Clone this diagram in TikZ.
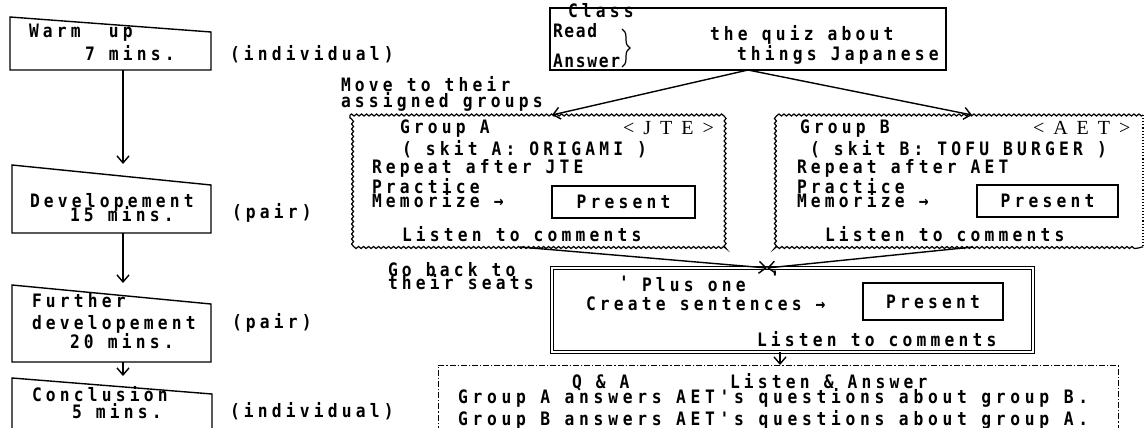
\documentclass[tikz,border=0pt]{standalone}
\usepackage{fontspec}
\usetikzlibrary{arrows.meta,decorations.pathmorphing,decorations.pathreplacing,calc}
\newfontfamily\monof[FakeStretch=0.88, LetterSpace=22.7]{DejaVu Sans Mono}
\newfontfamily\serff{Liberation Serif}
\begin{document}
\begin{tikzpicture}[x=1pt,y=-1pt,
  txt/.style={anchor=base west, inner sep=0pt, outer sep=0pt, font=\monof\bfseries\fontsize{18.5}{18.5}\selectfont},
  wide/.style={txt, font=\monof\bfseries\fontsize{18.5}{18.5}\selectfont\addfontfeature{LetterSpace=25.5}},
  tight/.style={txt, font=\monof\bfseries\fontsize{18.5}{18.5}\selectfont\addfontfeature{LetterSpace=9}},
  tag/.style={anchor=base west, inner sep=0pt, outer sep=0pt, font=\serff\fontsize{20}{20}\selectfont},
  boxline/.style={line width=1.4pt},
  frame/.style={draw, line width=1.4pt, inner sep=0pt, outer sep=0pt, anchor=north west},
  area/.style={inner sep=0pt, outer sep=0pt, anchor=north west},
  presentbox/.style={frame, line width=1.3pt, font=\monof\bfseries\fontsize{18.5}{18.5}\selectfont},
  arr/.style={line width=1.4pt, -{Straight Barb[length=7pt,width=12pt,line width=1.4pt]}},
  wavy/.style={line width=1.2pt, decorate, decoration={snake, amplitude=1pt, segment length=5pt}},
]
\useasboundingbox (0,0) rectangle (1146,428);
\clip (0,0) rectangle (1146,428);

% ---------- left column ----------
\draw[boxline] (10,17) -- (211,32) -- (211,70) -- (10,70) -- cycle;
\draw[boxline] (12,165) -- (211,185) -- (211,233) -- (12,233) -- cycle;
\draw[boxline] (12,285) -- (211,304) -- (211,362) -- (12,362) -- cycle;
\draw[boxline] (12,378) -- (212,394) -- (212,440) -- (12,440) -- cycle;

\coordinate (w1s) at (123,70);
\coordinate (w2n) at (123,164);
\coordinate (w2s) at (123,233);
\coordinate (w3n) at (123,283);
\coordinate (w3s) at (123,362);
\coordinate (w4n) at (123,376);
\draw[arr] (w1s) -- (w2n);
\draw[arr] (w2s) -- (w3n);
\draw[arr] (w3s) -- (w4n);

\node[txt] (t1a) at (29,38) {Warm~~up};
\node[txt] (t1b) at (85,61) {7 mins.};
\node[txt] (t1c) at (230,60) {(individual)};
\node[txt] (t2a) at (30,207) {Developement};
\node[txt] (t2b) at (70,221) {15 mins.};
\node[txt] (t2c) at (232,218) {(pair)};
\node[txt] (t3a) at (32,307) {Further};
\node[txt] (t3b) at (32,329) {developement};
\node[txt] (t3c) at (70,348) {20 mins.};
\node[txt] (t3d) at (232,328) {(pair)};
\node[txt] (t4a) at (32,401) {Conclusion};
\node[txt] (t4b) at (72,418) {5 mins.};
\node[txt] (t4c) at (230,417) {(individual)};

% ---------- class box ----------
\node[frame, minimum width=396pt, minimum height=62pt] (class) at (550,8) {};
\node[txt] (cl) at (568,18) {Class};
\node[tight] (rd) at (553,38) {Read};
\node[tight] (an) at (553,67) {Answer};
\draw[line width=1.2pt, decorate, decoration={brace, amplitude=8pt}] (622,29) -- (622,67);
\node[txt] (qz1) at (710,41) {the quiz about};
\node[txt] (qz2) at (737,61) {things Japanese};

\node[txt] (mv1) at (341,92) {Move to their};
\node[txt] (mv2) at (341,107) {assigned groups};

% ---------- group A ----------
\node[area, minimum width=373pt, minimum height=132pt] (ga) at (350,115) {};
\draw[wavy] (ga.north west) -- (ga.north east) -- (ga.south east) -- (ga.south west) -- cycle;
\node[txt] (gat) at (400,133) {Group A};
\node[tag] (gaj) at (623,134) {<\hspace{9pt}J\hspace{9pt}T\hspace{9pt}E\hspace{9pt}>};
\node[txt] (gas) at (402,155) {( skit A: ORIGAMI )};
\node[txt] (gar) at (372,173) {Repeat after JTE};
\node[txt] (gap) at (372,193) {Practice};
\node[txt] (gam) at (372,207) {Memorize →};
\node[presentbox, minimum width=143pt, minimum height=32pt] (pa) at (552,186) {Present};
\node[txt] (gal) at (402,241) {Listen to comments};

% ---------- group B ----------
\node[area, minimum width=365pt, minimum height=132pt] (gb) at (778,115) {};
\draw[wavy] (gb.north east) -- (gb.north west) -- (gb.south west) -- (gb.south east);
\draw[line width=1.1pt, dotted] (gb.north east) -- (gb.south east);
\node[txt] (gbt) at (800,133) {Group B};
\node[tag] (gba) at (1033,134) {<\hspace{9pt}A\hspace{9pt}E\hspace{9pt}T\hspace{9pt}>};
\node[txt] (gbs) at (810,155) {( skit B: TOFU BURGER )};
\node[txt] (gbr) at (797,173) {Repeat after AET};
\node[txt] (gbp) at (797,193) {Practice};
\node[txt] (gbm) at (797,207) {Memorize →};
\node[presentbox, minimum width=141pt, minimum height=32pt] (pb) at (977,185) {Present};
\node[txt] (gbl) at (825,241) {Listen to comments};

% arrows from class
\coordinate (gaTop) at ($(ga.north west)+(202,0)$);
\coordinate (gbTop) at ($(gb.north west)+(194,0)$);
\draw[arr] (class.south) -- (gaTop);
\draw[arr] (class.south) -- (gbTop);

% ---------- plus one ----------
\node[area, draw, double, double distance=2pt, line width=1pt, minimum width=481pt, minimum height=84pt] (plus) at (552,268) {};
\node[txt] (q1) at (619,289) {'};
\node[txt] (pl) at (642,291) {Plus one};
\node[txt] (q2) at (770,284) {'};
\node[txt] (cs) at (586,310) {Create sentences →};
\node[presentbox, minimum width=140pt, minimum height=37pt] (pc) at (863,283) {Present};
\node[txt] (pll) at (757,346) {Listen to comments};

\node[txt] (gb1) at (388,276) {Go back to};
\node[txt] (gb2) at (388,289) {their seats};

\coordinate (gaBot) at ($(ga.south west)+(170,0)$);
\coordinate (gbBot) at ($(gb.south west)+(195,0)$);
\coordinate (plusTop) at ($(plus.north west)+(215,0)$);
\draw[arr] (gaBot) -- (plusTop);
\draw[arr] (gbBot) -- (plusTop);

% ---------- Q & A ----------
\node[area, draw, line width=1pt, dash pattern=on 6pt off 2pt on 1.2pt off 2pt, minimum width=680pt, minimum height=80pt] (qa) at (438,365) {};
\coordinate (plusBot) at ($(plus.south west)+(228,0)$);
\coordinate (qaTop) at ($(qa.north west)+(342,0)$);
\draw[arr] (plusBot) -- (qaTop);
\node[txt] (qat) at (572,388) {Q \& A};
\node[txt] (qal) at (730,388) {Listen \& Answer};
\node[wide] (qa1) at (458,403) {Group A answers AET's questions about group B.};
\node[wide] (qa2) at (458,425) {Group B answers AET's questions about group A.};
\end{tikzpicture}
\end{document}
